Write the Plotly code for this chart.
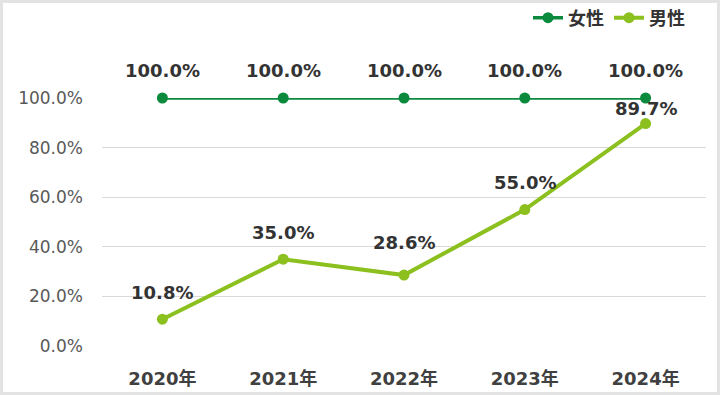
import plotly.graph_objects as go

years = ["2020年", "2021年", "2022年", "2023年", "2024年"]
female = [100.0, 100.0, 100.0, 100.0, 100.0]
male = [10.8, 35.0, 28.6, 55.0, 89.7]
y_ticks = [0, 20, 40, 60, 80, 100]
y_tick_labels = ["0.0%", "20.0%", "40.0%", "60.0%", "80.0%", "100.0%"]
female_label_shift = [28, 28, 28, 28, 28]
male_label_shift = [27, 27, 33, 27, 15]

FEMALE_C = "#0b8a3e"
MALE_C = "#8cc01f"
FONT = "DejaVu Sans, Noto Sans CJK JP"

fig = go.Figure()
fig.add_trace(go.Scatter(x=years, y=female, name="女性", mode="lines+markers",
                         line=dict(color=FEMALE_C, width=3.5),
                         marker=dict(color=FEMALE_C, size=11), cliponaxis=False))
fig.add_trace(go.Scatter(x=years, y=male, name="男性", mode="lines+markers",
                         line=dict(color=MALE_C, width=4),
                         marker=dict(color=MALE_C, size=11), cliponaxis=False))

for ys, shifts in [(female, female_label_shift), (male, male_label_shift)]:
    for x, y, s in zip(years, ys, shifts):
        fig.add_annotation(x=x, y=y, text=f"<b>{y:.1f}%</b>", showarrow=False,
                           yshift=s, font=dict(family=FONT, size=18, color="#333333"))

W, H = 720, 395
ml, mr, mt, mb = 102, 14, 98, 49
pw, ph = W - ml - mr, H - mt - mb
# frame around whole image
fig.add_shape(type="rect", xref="paper", yref="paper",
              x0=(1.5 - ml) / pw, x1=(W - 1.5 - ml) / pw,
              y0=-(mb - 1.5) / ph, y1=(H - mb - 1.5) / ph,
              line=dict(color="#e3e3e3", width=3), layer="below")

fig.update_layout(
    width=W, height=H,
    margin=dict(l=ml, r=mr, t=mt, b=mb, autoexpand=False),
    paper_bgcolor="white", plot_bgcolor="white",
    font=dict(family=FONT),
    showlegend=True,
    legend=dict(orientation="h", x=(W - 30) / W, xref="container", xanchor="right",
                y=1 - 18 / H, yref="container", yanchor="middle",
                font=dict(family="Noto Sans CJK JP", size=18, color="#333333", weight="bold"),
                itemwidth=30, bgcolor="rgba(0,0,0,0)"),
    xaxis=dict(type="category", range=[-0.5, 4.5], showgrid=False, zeroline=False,
               showline=False, ticks="", ticklabelstandoff=20, automargin=False,
               tickfont=dict(family=FONT, size=18, color="#404040", weight="bold")),
    yaxis=dict(range=[0, 100], tickvals=y_ticks, ticktext=y_tick_labels,
               showgrid=True, gridcolor="#d9d9d9", gridwidth=1, automargin=False,
               zeroline=False, showline=False, ticks="", ticklabelstandoff=18,
               tickfont=dict(family=FONT, size=17, color="#595959")),
)

fig.write_html("out.html")
